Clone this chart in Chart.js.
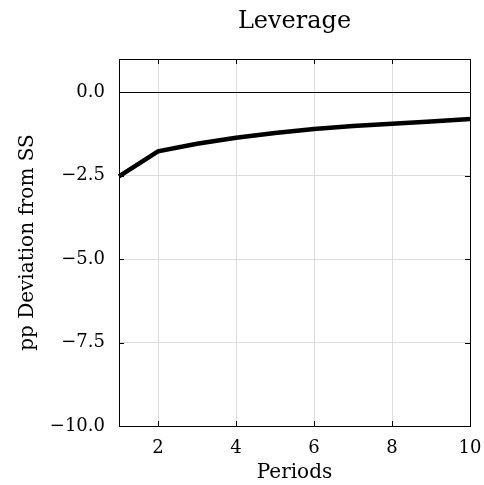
<!DOCTYPE html>
<html>
<head>
<meta charset="utf-8">
<script src="https://cdn.jsdelivr.net/npm/chart.js@4"></script>
<style>
  html, body { margin: 0; padding: 0; background: #fff; }
  #wrap { width: 484px; height: 485px; }
</style>
</head>
<body>
<div id="wrap"><canvas id="leverageChart" width="484" height="485"></canvas></div>
<script>
// dati
const periods = [1, 2, 3, 4, 5, 6, 7, 8, 9, 10];
const leverage = [-2.52, -1.77, -1.54, -1.36, -1.22, -1.10, -1.01, -0.94, -0.87, -0.80];
const xTicks = [2, 4, 6, 8, 10];
const yTicks = [0, -2.5, -5, -7.5, -10];

const FONT = "'DejaVu Serif', serif";

// tacche interne, cornice, linea dello zero e titolo
const framePlugin = {
    id: "frame",
    afterDraw(chart) {
        const ctx = chart.ctx;
        const a = chart.chartArea;
        const xs = chart.scales.x;
        const ys = chart.scales.y;
        ctx.save();
        ctx.strokeStyle = "#000";
        ctx.lineWidth = 1;
        // linea dello zero
        const y0 = Math.round(ys.getPixelForValue(0)) + 0.5;
        ctx.beginPath();
        ctx.moveTo(a.left, y0);
        ctx.lineTo(a.right, y0);
        ctx.stroke();
        // tacche
        ctx.beginPath();
        xTicks.forEach(v => {
            const px = Math.round(xs.getPixelForValue(v)) + 0.5;
            ctx.moveTo(px, a.bottom); ctx.lineTo(px, a.bottom - 5);
            ctx.moveTo(px, a.top); ctx.lineTo(px, a.top + 5);
        });
        yTicks.forEach(v => {
            const py = Math.round(ys.getPixelForValue(v)) + 0.5;
            ctx.moveTo(a.left, py); ctx.lineTo(a.left + 5, py);
            ctx.moveTo(a.right, py); ctx.lineTo(a.right - 5, py);
        });
        ctx.stroke();
        // cornice
        ctx.strokeRect(Math.round(a.left) + 0.5, Math.round(a.top) + 0.5,
            Math.round(a.right - a.left), Math.round(a.bottom - a.top));
        // titolo
        ctx.fillStyle = "#000";
        ctx.font = "24px " + FONT;
        ctx.textAlign = "center";
        ctx.textBaseline = "middle";
        ctx.fillText("Leverage", (a.left + a.right) / 2, 22);
        ctx.restore();
    }
};

const ctx = document.getElementById("leverageChart").getContext("2d");

new Chart(ctx, {
    type: "line",
    data: {
        datasets: [{
            data: periods.map((p, i) => ({ x: p, y: leverage[i] })),
            borderColor: "#000",
            borderWidth: 4.5,
            pointRadius: 0,
            tension: 0,
            clip: false
        }]
    },
    options: {
        responsive: false,
        animation: false,
        layout: { padding: { top: 59, right: 14, left: 0, bottom: 0 } },
        plugins: {
            legend: { display: false },
            tooltip: { enabled: false }
        },
        scales: {
            x: {
                type: "linear",
                min: 1,
                max: 10,
                afterBuildTicks: scale => { scale.ticks = xTicks.map(v => ({ value: v })); },
                afterFit: scale => {
                    scale.height = 59;
                    scale.paddingLeft = 0;
                    scale.paddingRight = 0;
                },
                border: { display: false },
                grid: { color: "#dcdcdc", lineWidth: 1, drawTicks: false },
                ticks: {
                    padding: 12,
                    color: "#000",
                    font: { family: FONT, size: 18 },
                    maxRotation: 0,
                    callback: v => String(v)
                },
                title: {
                    display: true,
                    text: "Periods",
                    color: "#000",
                    font: { family: FONT, size: 20 },
                    padding: { top: 0, bottom: 0 }
                }
            },
            y: {
                min: -10,
                max: 1,
                afterBuildTicks: scale => { scale.ticks = yTicks.map(v => ({ value: v })); },
                afterFit: scale => {
                    scale.width = 119;
                    scale.paddingTop = 0;
                    scale.paddingBottom = 0;
                },
                border: { display: false },
                grid: { color: "#dcdcdc", lineWidth: 1, drawTicks: false },
                ticks: {
                    padding: 14,
                    color: "#000",
                    font: { family: FONT, size: 18 },
                    callback: v => (v < 0 ? "\u2212" : "") + Math.abs(v).toFixed(1)
                },
                title: {
                    display: true,
                    text: "pp Deviation from SS",
                    color: "#000",
                    font: { family: FONT, size: 20 },
                    padding: { top: 16, bottom: 0 }
                }
            }
        }
    },
    plugins: [framePlugin]
});
</script>
</body>
</html>
